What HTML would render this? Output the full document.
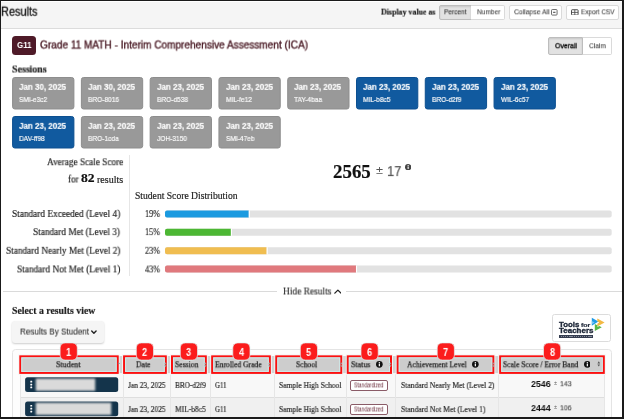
<!DOCTYPE html>
<html><head><meta charset="utf-8"><title>Results</title><style>
html,body{margin:0;padding:0;}body{width:624px;height:419px;overflow:hidden;background:#fff;position:relative;font-family:"Liberation Sans",sans-serif;}
.a{position:absolute;}.t{position:absolute;white-space:nowrap;transform-origin:0 50%;line-height:1;will-change:transform;}

.btn{position:absolute;box-sizing:border-box;background:#fff;border:1px solid #dadada;border-radius:2px;}
.btn.on{background:#e2e2e2;border-color:#bdbdbd;box-shadow:inset 0 1px 2px rgba(0,0,0,.12);}
.card{position:absolute;box-sizing:border-box;width:62.3px;height:32.5px;border-radius:2.5px;background:#999;border:1px solid #8d8d8d;}
.card.b{background:#115a9f;border-color:#0c4f90;}
.hdr{position:absolute;box-sizing:border-box;height:19.2px;top:355.3px;background:#cdcdcd;border:2px solid #fb1010;box-shadow:inset 0 0 0 1px #cdeaea, 0 0 0 1px #f3f3f3;}
.bdg{position:absolute;z-index:5;box-sizing:border-box;width:17.2px;height:17.2px;top:342.9px;border-radius:5px;background:#fb1c1c;box-shadow:0 0 0 0.7px #e0f2f2;}
.sbtn{position:absolute;box-sizing:border-box;left:25px;width:93.3px;height:14.8px;border-radius:2.5px;background:#14344b;overflow:hidden;}
.blur{position:absolute;top:0.6px;height:13.6px;background:#d9d9d9;filter:blur(0.9px);}
.std{position:absolute;box-sizing:border-box;left:350px;width:38px;height:10.8px;border:1.1px solid #8a5b67;border-radius:2px;background:#fff;}

</style></head><body><div id="pg" style="position:absolute;left:0;top:0;width:624px;height:419px;overflow:hidden;filter:blur(0.25px);">
<div class="a" style="left:0;top:1.5px;width:624px;height:26.1px;background:#f5f5f5;border-bottom:1px solid #dcdcdc;"></div>
<div class="a" style="left:2.5px;top:290.8px;width:274.5px;height:1px;background:#dadada;"></div>
<div class="a" style="left:346.2px;top:290.8px;width:276px;height:1px;background:#dadada;"></div>
<div class="a" style="left:128.5px;top:155px;width:1.6px;height:121px;background:#e6e6e6;"></div>
<div class="btn on" style="left:439px;top:5px;width:32.5px;height:14.6px;border-radius:2px 0 0 2px;"></div>
<div class="btn" style="left:471px;top:5px;width:33.6px;height:14.6px;border-radius:0 2px 2px 0;border-left:none;"></div>
<div class="btn" style="left:509.3px;top:5px;width:53.2px;height:14.6px;"></div>
<div class="btn" style="left:566.4px;top:5px;width:52.6px;height:14.6px;"></div>
<svg class="a" style="left:551.2px;top:9px;" width="6.6" height="6.6" viewBox="0 0 10 10"><rect x="0.8" y="0.8" width="8.4" height="8.4" rx="1.2" fill="none" stroke="#555" stroke-width="1.3"/><rect x="3.2" y="4.2" width="3.6" height="1.7" fill="#555"/></svg>
<svg class="a" style="left:571px;top:8.6px;" width="7.6" height="6.8" viewBox="0 0 12 10"><rect x="0.8" y="0.8" width="10.4" height="8.4" rx="1" fill="none" stroke="#444" stroke-width="1.5"/><line x1="6" y1="1" x2="6" y2="9" stroke="#444" stroke-width="1.3"/><line x1="1" y1="5" x2="11" y2="5" stroke="#444" stroke-width="1.3"/></svg>
<div class="a" style="left:12px;top:36.2px;width:23.9px;height:18.8px;border-radius:3.5px;background:#4e1a28;"></div>
<div class="btn on" style="left:548px;top:37.2px;width:35.2px;height:17.6px;border-radius:2px 0 0 2px;"></div>
<div class="btn" style="left:582.8px;top:37.2px;width:29px;height:17.6px;border-radius:0 2px 2px 0;border-left:none;"></div>
<svg class="a" style="left:405px;top:163.8px;" width="6.3" height="6.3" viewBox="0 0 10 10"><circle cx="5" cy="5" r="5" fill="#444"/><rect x="4.1" y="4.2" width="1.8" height="3.6" fill="#fff"/><circle cx="5" cy="2.7" r="1.05" fill="#fff"/></svg>
<svg class="a" style="left:333.6px;top:288.6px;" width="7.8" height="5" viewBox="0 0 12 7.5"><path d="M1.3 6.3 L6 1.6 L10.7 6.3" fill="none" stroke="#222" stroke-width="2" stroke-linecap="round" stroke-linejoin="round"/></svg>
<div class="a" style="left:11.6px;top:321.3px;width:92.8px;height:21.6px;border-radius:3px;background:#f5f5f5;box-shadow:0 1px 2px rgba(0,0,0,.2);"></div>
<svg class="a" style="left:90.8px;top:329.8px;" width="5.8" height="4.2" viewBox="0 0 12 8"><path d="M1.5 1.6 L6 6.2 L10.5 1.6" fill="none" stroke="#222" stroke-width="2.9" stroke-linecap="round" stroke-linejoin="round"/></svg>
<div class="a" style="left:552.3px;top:313.8px;width:58.7px;height:27.8px;box-sizing:border-box;border:1px solid #dcdcdc;border-radius:2.5px;background:#fff;"></div>
<div class="a" style="left:558.9px;top:335px;width:34.1px;height:2.5px;background:#353d50;"></div>
<div class="a" style="left:560.5px;top:335.9px;width:31px;height:0.8px;background:repeating-linear-gradient(90deg,#9aa0ad 0 1.1px,#353d50 1.1px 1.9px);opacity:.8"></div>
<svg class="a" style="left:590px;top:316px;" width="16" height="16" viewBox="0 0 16 16"><path d="M1.8 1.8 L8.4 5.6 L1.8 9.8 Z" fill="#1f9be6"/><path d="M1.8 5 L4.6 6.4 L1.8 8.2Z" fill="#7cc8f3"/><path d="M7.3 2.6 L14.6 6.5 L7.3 10.4 L7.3 7.7 L9.2 6.5 L7.3 5.3Z" fill="#f3b943"/><path d="M4.8 7.9 L4.8 14.9 L11.8 11.2 L9.3 9.9 L7.4 10.9 L7.4 9.3Z" fill="#57b847"/></svg>
<div class="a" style="left:11.6px;top:349.3px;width:600.6px;height:80px;box-sizing:border-box;border:1.2px solid #e4e4e4;border-radius:3.5px;background:#fdfdfd;"></div>
<div class="a" style="left:20px;top:374px;width:584px;height:22.6px;background:#f8f8f8;"></div>
<div class="a" style="left:20px;top:396.6px;width:584px;height:1px;background:#dedede;"></div>
<div class="a" style="left:20px;top:397.6px;width:584px;height:22px;background:#f0f0f0;"></div>
<div class="a" style="left:20px;top:356px;width:584px;height:18px;background:#f4f4f4;"></div>
<div class="a" style="left:20.0px;top:374px;width:1px;height:46px;background:#e6e6e6;"></div>
<div class="a" style="left:123.2px;top:374px;width:1px;height:46px;background:#e6e6e6;"></div>
<div class="a" style="left:170.2px;top:374px;width:1px;height:46px;background:#e6e6e6;"></div>
<div class="a" style="left:210.2px;top:374px;width:1px;height:46px;background:#e6e6e6;"></div>
<div class="a" style="left:274.4px;top:374px;width:1px;height:46px;background:#e6e6e6;"></div>
<div class="a" style="left:345.8px;top:374px;width:1px;height:46px;background:#e6e6e6;"></div>
<div class="a" style="left:395.4px;top:374px;width:1px;height:46px;background:#e6e6e6;"></div>
<div class="a" style="left:498.4px;top:374px;width:1px;height:46px;background:#e6e6e6;"></div>
<div class="a" style="left:603.6px;top:374px;width:1px;height:46px;background:#e6e6e6;"></div>
<div class="a" style="left:20px;top:356.2px;width:584.4px;height:16.4px;background:#d3d3d3;"></div>
<div class="std" style="top:380.0px;"></div>
<div class="std" style="top:404.1px;"></div>
<svg class="a" style="left:0;top:0;" width="624" height="419" viewBox="0 0 624 419"><defs><filter id="bl" x="-10%" y="-30%" width="120%" height="160%"><feGaussianBlur stdDeviation="0.8"/></filter></defs><rect x="12.60" y="77.50" width="61.3" height="31.5" rx="2.2" fill="#999" stroke="#8d8d8d" stroke-width="1"/><rect x="81.38" y="77.50" width="61.3" height="31.5" rx="2.2" fill="#999" stroke="#8d8d8d" stroke-width="1"/><rect x="150.16" y="77.50" width="61.3" height="31.5" rx="2.2" fill="#999" stroke="#8d8d8d" stroke-width="1"/><rect x="218.94" y="77.50" width="61.3" height="31.5" rx="2.2" fill="#999" stroke="#8d8d8d" stroke-width="1"/><rect x="287.72" y="77.50" width="61.3" height="31.5" rx="2.2" fill="#999" stroke="#8d8d8d" stroke-width="1"/><rect x="356.50" y="77.50" width="61.3" height="31.5" rx="2.2" fill="#115a9f" stroke="#0c4f90" stroke-width="1"/><rect x="425.28" y="77.50" width="61.3" height="31.5" rx="2.2" fill="#115a9f" stroke="#0c4f90" stroke-width="1"/><rect x="494.06" y="77.50" width="61.3" height="31.5" rx="2.2" fill="#115a9f" stroke="#0c4f90" stroke-width="1"/><rect x="12.60" y="116.50" width="61.3" height="31.5" rx="2.2" fill="#115a9f" stroke="#0c4f90" stroke-width="1"/><rect x="81.38" y="116.50" width="61.3" height="31.5" rx="2.2" fill="#999" stroke="#8d8d8d" stroke-width="1"/><rect x="150.16" y="116.50" width="61.3" height="31.5" rx="2.2" fill="#999" stroke="#8d8d8d" stroke-width="1"/><rect x="218.94" y="116.50" width="61.3" height="31.5" rx="2.2" fill="#999" stroke="#8d8d8d" stroke-width="1"/><rect x="165" y="210.50" width="446.7" height="7" rx="2" fill="#e2e2e2"/><path d="M167 210.50 h81.77 v7 h-81.77 a2 2 0 0 1 -2 -2 v-3 a2 2 0 0 1 2 -2z" fill="#1a9ae0"/><rect x="248.77" y="210.50" width="1.1" height="7" fill="#fff"/><rect x="165" y="228.75" width="446.7" height="7" rx="2" fill="#e2e2e2"/><path d="M167 228.75 h63.90 v7 h-63.90 a2 2 0 0 1 -2 -2 v-3 a2 2 0 0 1 2 -2z" fill="#4cb733"/><rect x="230.91" y="228.75" width="1.1" height="7" fill="#fff"/><rect x="165" y="247.20" width="446.7" height="7" rx="2" fill="#e2e2e2"/><path d="M167 247.20 h99.64 v7 h-99.64 a2 2 0 0 1 -2 -2 v-3 a2 2 0 0 1 2 -2z" fill="#f0bd50"/><rect x="266.64" y="247.20" width="1.1" height="7" fill="#fff"/><rect x="165" y="265.60" width="446.7" height="7" rx="2" fill="#e2e2e2"/><path d="M167 265.60 h188.98 v7 h-188.98 a2 2 0 0 1 -2 -2 v-3 a2 2 0 0 1 2 -2z" fill="#e0797d"/><rect x="355.98" y="265.60" width="1.1" height="7" fill="#fff"/><rect x="18.80" y="354.85" width="100.40" height="19.55" fill="none" stroke="#f4f4f4" stroke-width="1"/><rect x="20.30" y="356.35" width="97.40" height="16.55" fill="#cdcdcd" stroke="#fb1010" stroke-width="2"/><rect x="21.80" y="357.85" width="94.40" height="13.55" fill="none" stroke="#cdeaea" stroke-width="1"/><rect x="122.60" y="354.85" width="44.70" height="19.55" fill="none" stroke="#f4f4f4" stroke-width="1"/><rect x="124.10" y="356.35" width="41.70" height="16.55" fill="#cdcdcd" stroke="#fb1010" stroke-width="2"/><rect x="125.60" y="357.85" width="38.70" height="13.55" fill="none" stroke="#cdeaea" stroke-width="1"/><rect x="170.50" y="354.85" width="36.80" height="19.55" fill="none" stroke="#f4f4f4" stroke-width="1"/><rect x="172.00" y="356.35" width="33.80" height="16.55" fill="#cdcdcd" stroke="#fb1010" stroke-width="2"/><rect x="173.50" y="357.85" width="30.80" height="13.55" fill="none" stroke="#cdeaea" stroke-width="1"/><rect x="210.70" y="354.85" width="60.60" height="19.55" fill="none" stroke="#f4f4f4" stroke-width="1"/><rect x="212.20" y="356.35" width="57.60" height="16.55" fill="#cdcdcd" stroke="#fb1010" stroke-width="2"/><rect x="213.70" y="357.85" width="54.60" height="13.55" fill="none" stroke="#cdeaea" stroke-width="1"/><rect x="274.80" y="354.85" width="67.90" height="19.55" fill="none" stroke="#f4f4f4" stroke-width="1"/><rect x="276.30" y="356.35" width="64.90" height="16.55" fill="#cdcdcd" stroke="#fb1010" stroke-width="2"/><rect x="277.80" y="357.85" width="61.90" height="13.55" fill="none" stroke="#cdeaea" stroke-width="1"/><rect x="346.30" y="354.85" width="46.20" height="19.55" fill="none" stroke="#f4f4f4" stroke-width="1"/><rect x="347.80" y="356.35" width="43.20" height="16.55" fill="#cdcdcd" stroke="#fb1010" stroke-width="2"/><rect x="349.30" y="357.85" width="40.20" height="13.55" fill="none" stroke="#cdeaea" stroke-width="1"/><rect x="396.20" y="354.85" width="98.60" height="19.55" fill="none" stroke="#f4f4f4" stroke-width="1"/><rect x="397.70" y="356.35" width="95.60" height="16.55" fill="#cdcdcd" stroke="#fb1010" stroke-width="2"/><rect x="399.20" y="357.85" width="92.60" height="13.55" fill="none" stroke="#cdeaea" stroke-width="1"/><rect x="498.70" y="354.85" width="106.60" height="19.55" fill="none" stroke="#f4f4f4" stroke-width="1"/><rect x="500.20" y="356.35" width="103.60" height="16.55" fill="#cdcdcd" stroke="#fb1010" stroke-width="2"/><rect x="501.70" y="357.85" width="100.60" height="13.55" fill="none" stroke="#cdeaea" stroke-width="1"/><rect x="25.1" y="377.30" width="93.1" height="14.8" rx="2.5" fill="#14344b"/><rect x="35.8" y="378.60" width="59.4" height="12.2" fill="#dadada" filter="url(#bl)"/><rect x="25.1" y="401.40" width="93.1" height="14.8" rx="2.5" fill="#14344b"/><rect x="35.8" y="402.70" width="75.4" height="12.2" fill="#dadada" filter="url(#bl)"/><rect x="60.10" y="342.9" width="17.2" height="17.2" rx="5" fill="#fb1c1c" stroke="#e0f2f2" stroke-width="0.7"/><rect x="136.30" y="342.9" width="17.2" height="17.2" rx="5" fill="#fb1c1c" stroke="#e0f2f2" stroke-width="0.7"/><rect x="180.30" y="342.9" width="17.2" height="17.2" rx="5" fill="#fb1c1c" stroke="#e0f2f2" stroke-width="0.7"/><rect x="232.80" y="342.9" width="17.2" height="17.2" rx="5" fill="#fb1c1c" stroke="#e0f2f2" stroke-width="0.7"/><rect x="300.30" y="342.9" width="17.2" height="17.2" rx="5" fill="#fb1c1c" stroke="#e0f2f2" stroke-width="0.7"/><rect x="361.00" y="342.9" width="17.2" height="17.2" rx="5" fill="#fb1c1c" stroke="#e0f2f2" stroke-width="0.7"/><rect x="437.20" y="342.9" width="17.2" height="17.2" rx="5" fill="#fb1c1c" stroke="#e0f2f2" stroke-width="0.7"/><rect x="543.50" y="342.9" width="17.2" height="17.2" rx="5" fill="#fb1c1c" stroke="#e0f2f2" stroke-width="0.7"/><rect x="30.3" y="380.80" width="1.9" height="1.7" rx="0.3" fill="#fff"/><rect x="30.3" y="383.70" width="1.9" height="1.7" rx="0.3" fill="#fff"/><rect x="30.3" y="386.60" width="1.9" height="1.7" rx="0.3" fill="#fff"/><rect x="30.3" y="404.90" width="1.9" height="1.7" rx="0.3" fill="#fff"/><rect x="30.3" y="407.80" width="1.9" height="1.7" rx="0.3" fill="#fff"/><rect x="30.3" y="410.70" width="1.9" height="1.7" rx="0.3" fill="#fff"/></svg>
<svg class="a" style="left:376.2px;top:361.2px;" width="6.7" height="6.7" viewBox="0 0 10 10"><circle cx="5" cy="5" r="5" fill="#111"/><rect x="4.1" y="4.2" width="1.8" height="3.7" fill="#fff"/><circle cx="5" cy="2.6" r="1.1" fill="#fff"/></svg>
<svg class="a" style="left:472.0px;top:361.2px;" width="6.7" height="6.7" viewBox="0 0 10 10"><circle cx="5" cy="5" r="5" fill="#111"/><rect x="4.1" y="4.2" width="1.8" height="3.7" fill="#fff"/><circle cx="5" cy="2.6" r="1.1" fill="#fff"/></svg>
<svg class="a" style="left:583.8px;top:361.2px;" width="6.7" height="6.7" viewBox="0 0 10 10"><circle cx="5" cy="5" r="5" fill="#111"/><rect x="4.1" y="4.2" width="1.8" height="3.7" fill="#fff"/><circle cx="5" cy="2.6" r="1.1" fill="#fff"/></svg>
<svg class="a" style="left:164.2px;top:361.6px;" width="2.8" height="5.4" viewBox="0 0 6 12"><path d="M3 0.5 L5.8 5 L0.2 5Z M3 11.5 L5.8 7 L0.2 7Z" fill="#9c9c9c"/></svg>
<svg class="a" style="left:204.3px;top:361.6px;" width="2.8" height="5.4" viewBox="0 0 6 12"><path d="M3 0.5 L5.8 5 L0.2 5Z M3 11.5 L5.8 7 L0.2 7Z" fill="#9c9c9c"/></svg>
<svg class="a" style="left:267.6px;top:361.6px;" width="2.8" height="5.4" viewBox="0 0 6 12"><path d="M3 0.5 L5.8 5 L0.2 5Z M3 11.5 L5.8 7 L0.2 7Z" fill="#9c9c9c"/></svg>
<svg class="a" style="left:339.6px;top:361.6px;" width="2.8" height="5.4" viewBox="0 0 6 12"><path d="M3 0.5 L5.8 5 L0.2 5Z M3 11.5 L5.8 7 L0.2 7Z" fill="#9c9c9c"/></svg>
<svg class="a" style="left:389.3px;top:361.6px;" width="2.8" height="5.4" viewBox="0 0 6 12"><path d="M3 0.5 L5.8 5 L0.2 5Z M3 11.5 L5.8 7 L0.2 7Z" fill="#9c9c9c"/></svg>
<svg class="a" style="left:491.6px;top:361.6px;" width="2.8" height="5.4" viewBox="0 0 6 12"><path d="M3 0.5 L5.8 5 L0.2 5Z M3 11.5 L5.8 7 L0.2 7Z" fill="#9c9c9c"/></svg>
<svg class="a" style="left:116.6px;top:361.8px;" width="3.6" height="2.6" viewBox="0 0 6 5"><path d="M3 0.3 L5.9 4.8 L0.1 4.8Z" fill="#8a8a8a"/></svg>
<svg class="a" style="left:596.6px;top:361.3px;" width="3.6" height="5.8" viewBox="0 0 6 12"><path d="M3 0.5 L5.8 5 L0.2 5Z M3 11.5 L5.8 7 L0.2 7Z" fill="#555"/></svg>
<span class="t" id="t0" style="left:0.60px;top:5px;font-size:12.40px;font-family:'Liberation Sans', sans-serif;font-weight:normal;color:#111;transform:translateY(0.70px) scaleX(0.8856);-webkit-text-stroke:0.3px #111;">Results</span>
<span class="t" id="t1" style="left:380.50px;top:7px;font-size:8.60px;font-family:'Liberation Serif', serif;font-weight:bold;color:#222;transform:translateY(0.60px) scaleX(0.9203);-webkit-text-stroke:0.18px #222;">Display value as</span>
<span class="t" id="t2" style="left:444.00px;top:8px;font-size:7.40px;font-family:'Liberation Sans', sans-serif;font-weight:normal;color:#111;transform:translateY(0.30px) scaleX(0.8829);">Percent</span>
<span class="t" id="t3" style="left:476.50px;top:8px;font-size:7.40px;font-family:'Liberation Sans', sans-serif;font-weight:normal;color:#484848;transform:translateY(0.30px) scaleX(0.8936);-webkit-text-stroke:0.12px #484848;">Number</span>
<span class="t" id="t4" style="left:514.00px;top:8px;font-size:7.40px;font-family:'Liberation Sans', sans-serif;font-weight:normal;color:#484848;transform:translateY(0.30px) scaleX(0.9191);-webkit-text-stroke:0.12px #484848;">Collapse All</span>
<span class="t" id="t5" style="left:580.50px;top:8px;font-size:7.40px;font-family:'Liberation Sans', sans-serif;font-weight:normal;color:#484848;transform:translateY(0.30px) scaleX(0.8673);-webkit-text-stroke:0.12px #484848;">Export CSV</span>
<span class="t" id="t6" style="left:16.70px;top:40px;font-size:8.90px;font-family:'Liberation Sans', sans-serif;font-weight:bold;color:#fff;transform:translateY(0.95px) scaleX(0.8959);">G11</span>
<span class="t" id="t7" style="left:40.30px;top:40px;font-size:10.20px;font-family:'Liberation Sans', sans-serif;font-weight:normal;color:#45141f;transform:translateY(0.50px) scaleX(0.9876);-webkit-text-stroke:0.32px #45141f;">Grade 11 MATH - Interim Comprehensive Assessment (ICA)</span>
<span class="t" id="t8" style="left:554.50px;top:42px;font-size:7.90px;font-family:'Liberation Sans', sans-serif;font-weight:normal;color:#000;transform:translateY(0.25px) scaleX(0.8800);-webkit-text-stroke:0.3px #000;">Overall</span>
<span class="t" id="t9" style="left:588.80px;top:42px;font-size:7.90px;font-family:'Liberation Sans', sans-serif;font-weight:normal;color:#484848;transform:translateY(0.25px) scaleX(0.8428);-webkit-text-stroke:0.12px #484848;">Claim</span>
<span class="t" id="t10" style="left:11.70px;top:64px;font-size:10.20px;font-family:'Liberation Serif', serif;font-weight:bold;color:#1c1c1c;transform:translateY(0.50px) scaleX(0.9700);-webkit-text-stroke:0.18px #1c1c1c;">Sessions</span>
<span class="t" id="t11" style="left:19.20px;top:82px;font-size:8.90px;font-family:'Liberation Sans', sans-serif;font-weight:bold;color:#fff;transform:translateY(0.85px) scaleX(0.9004);-webkit-text-stroke:0.15px #fff;">Jan 30, 2025</span>
<span class="t" id="t12" style="left:19.20px;top:96px;font-size:7.40px;font-family:'Liberation Sans', sans-serif;font-weight:normal;color:#fafafa;transform:translateY(0.00px) scaleX(0.8900);-webkit-text-stroke:0.2px #fafafa;">SMI-e3c2</span>
<span class="t" id="t13" style="left:87.98px;top:82px;font-size:8.90px;font-family:'Liberation Sans', sans-serif;font-weight:bold;color:#fff;transform:translateY(0.85px) scaleX(0.9004);-webkit-text-stroke:0.15px #fff;">Jan 30, 2025</span>
<span class="t" id="t14" style="left:87.98px;top:96px;font-size:7.40px;font-family:'Liberation Sans', sans-serif;font-weight:normal;color:#fafafa;transform:translateY(0.00px) scaleX(0.8900);-webkit-text-stroke:0.2px #fafafa;">BRO-8016</span>
<span class="t" id="t15" style="left:156.76px;top:82px;font-size:8.90px;font-family:'Liberation Sans', sans-serif;font-weight:bold;color:#fff;transform:translateY(0.85px) scaleX(0.9004);-webkit-text-stroke:0.15px #fff;">Jan 23, 2025</span>
<span class="t" id="t16" style="left:156.76px;top:96px;font-size:7.40px;font-family:'Liberation Sans', sans-serif;font-weight:normal;color:#fafafa;transform:translateY(0.00px) scaleX(0.8900);-webkit-text-stroke:0.2px #fafafa;">BRO-d538</span>
<span class="t" id="t17" style="left:225.54px;top:82px;font-size:8.90px;font-family:'Liberation Sans', sans-serif;font-weight:bold;color:#fff;transform:translateY(0.85px) scaleX(0.9004);-webkit-text-stroke:0.15px #fff;">Jan 23, 2025</span>
<span class="t" id="t18" style="left:225.54px;top:96px;font-size:7.40px;font-family:'Liberation Sans', sans-serif;font-weight:normal;color:#fafafa;transform:translateY(0.00px) scaleX(0.8900);-webkit-text-stroke:0.2px #fafafa;">MIL-fe12</span>
<span class="t" id="t19" style="left:294.32px;top:82px;font-size:8.90px;font-family:'Liberation Sans', sans-serif;font-weight:bold;color:#fff;transform:translateY(0.85px) scaleX(0.9004);-webkit-text-stroke:0.15px #fff;">Jan 23, 2025</span>
<span class="t" id="t20" style="left:294.32px;top:96px;font-size:7.40px;font-family:'Liberation Sans', sans-serif;font-weight:normal;color:#fafafa;transform:translateY(0.00px) scaleX(0.8900);-webkit-text-stroke:0.2px #fafafa;">TAY-4baa</span>
<span class="t" id="t21" style="left:363.10px;top:82px;font-size:8.90px;font-family:'Liberation Sans', sans-serif;font-weight:bold;color:#fff;transform:translateY(0.85px) scaleX(0.9004);-webkit-text-stroke:0.15px #fff;">Jan 23, 2025</span>
<span class="t" id="t22" style="left:363.10px;top:96px;font-size:7.40px;font-family:'Liberation Sans', sans-serif;font-weight:normal;color:#fafafa;transform:translateY(0.00px) scaleX(0.8900);-webkit-text-stroke:0.2px #fafafa;">MIL-b8c5</span>
<span class="t" id="t23" style="left:431.88px;top:82px;font-size:8.90px;font-family:'Liberation Sans', sans-serif;font-weight:bold;color:#fff;transform:translateY(0.85px) scaleX(0.9004);-webkit-text-stroke:0.15px #fff;">Jan 23, 2025</span>
<span class="t" id="t24" style="left:431.88px;top:96px;font-size:7.40px;font-family:'Liberation Sans', sans-serif;font-weight:normal;color:#fafafa;transform:translateY(0.00px) scaleX(0.8900);-webkit-text-stroke:0.2px #fafafa;">BRO-d2f9</span>
<span class="t" id="t25" style="left:500.66px;top:82px;font-size:8.90px;font-family:'Liberation Sans', sans-serif;font-weight:bold;color:#fff;transform:translateY(0.85px) scaleX(0.9004);-webkit-text-stroke:0.15px #fff;">Jan 23, 2025</span>
<span class="t" id="t26" style="left:500.66px;top:96px;font-size:7.40px;font-family:'Liberation Sans', sans-serif;font-weight:normal;color:#fafafa;transform:translateY(0.00px) scaleX(0.8900);-webkit-text-stroke:0.2px #fafafa;">WIL-6c57</span>
<span class="t" id="t27" style="left:19.20px;top:121px;font-size:8.90px;font-family:'Liberation Sans', sans-serif;font-weight:bold;color:#fff;transform:translateY(0.85px) scaleX(0.9004);-webkit-text-stroke:0.15px #fff;">Jan 23, 2025</span>
<span class="t" id="t28" style="left:19.20px;top:135px;font-size:7.40px;font-family:'Liberation Sans', sans-serif;font-weight:normal;color:#fafafa;transform:translateY(0.00px) scaleX(0.8900);-webkit-text-stroke:0.2px #fafafa;">DAV-ff98</span>
<span class="t" id="t29" style="left:87.98px;top:121px;font-size:8.90px;font-family:'Liberation Sans', sans-serif;font-weight:bold;color:#fff;transform:translateY(0.85px) scaleX(0.9004);-webkit-text-stroke:0.15px #fff;">Jan 23, 2025</span>
<span class="t" id="t30" style="left:87.98px;top:135px;font-size:7.40px;font-family:'Liberation Sans', sans-serif;font-weight:normal;color:#fafafa;transform:translateY(0.00px) scaleX(0.8900);-webkit-text-stroke:0.2px #fafafa;">BRO-1cda</span>
<span class="t" id="t31" style="left:156.76px;top:121px;font-size:8.90px;font-family:'Liberation Sans', sans-serif;font-weight:bold;color:#fff;transform:translateY(0.85px) scaleX(0.9004);-webkit-text-stroke:0.15px #fff;">Jan 23, 2025</span>
<span class="t" id="t32" style="left:156.76px;top:135px;font-size:7.40px;font-family:'Liberation Sans', sans-serif;font-weight:normal;color:#fafafa;transform:translateY(0.00px) scaleX(0.8900);-webkit-text-stroke:0.2px #fafafa;">JOH-3150</span>
<span class="t" id="t33" style="left:225.54px;top:121px;font-size:8.90px;font-family:'Liberation Sans', sans-serif;font-weight:bold;color:#fff;transform:translateY(0.85px) scaleX(0.9004);-webkit-text-stroke:0.15px #fff;">Jan 23, 2025</span>
<span class="t" id="t34" style="left:225.54px;top:135px;font-size:7.40px;font-family:'Liberation Sans', sans-serif;font-weight:normal;color:#fafafa;transform:translateY(0.00px) scaleX(0.8900);-webkit-text-stroke:0.2px #fafafa;">SMI-47eb</span>
<span class="t" id="t35" style="left:46.75px;top:157px;font-size:9.60px;font-family:'Liberation Serif', serif;font-weight:normal;color:#222;transform:translateY(0.20px) scaleX(0.9627);-webkit-text-stroke:0.18px #222;">Average Scale Score</span>
<span class="t" id="t36" style="left:68.00px;top:174px;font-size:9.60px;font-family:'Liberation Serif', serif;font-weight:normal;color:#222;transform:translateY(0.50px) scaleX(0.9385);-webkit-text-stroke:0.18px #222;">for</span>
<span class="t" id="t37" style="left:81.10px;top:172px;font-size:12.50px;font-family:'Liberation Serif', serif;font-weight:bold;color:#111;transform:translateY(0.45px) scaleX(1.0880);-webkit-text-stroke:0.18px #111;">82</span>
<span class="t" id="t38" style="left:96.80px;top:174px;font-size:9.60px;font-family:'Liberation Serif', serif;font-weight:normal;color:#222;transform:translateY(0.50px) scaleX(1.0454);-webkit-text-stroke:0.18px #222;">results</span>
<span class="t" id="t39" style="left:333.00px;top:163px;font-size:18.20px;font-family:'Liberation Serif', serif;font-weight:bold;color:#111;transform:translateY(0.10px) scaleX(1.0392);-webkit-text-stroke:0.18px #111;">2565</span>
<span class="t" id="t40" style="left:375.80px;top:165px;font-size:11.20px;font-family:'Liberation Sans', sans-serif;font-weight:normal;color:#555;transform:translateY(0.30px) scaleX(1.1399);">±</span>
<span class="t" id="t41" style="left:387.30px;top:165px;font-size:13.80px;font-family:'Liberation Sans', sans-serif;font-weight:normal;color:#505050;transform:translateY(0.10px) scaleX(0.9375);-webkit-text-stroke:0.15px #505050;">17</span>
<span class="t" id="t42" style="left:134.50px;top:190px;font-size:9.60px;font-family:'Liberation Serif', serif;font-weight:normal;color:#222;transform:translateY(0.70px) scaleX(1.0017);-webkit-text-stroke:0.18px #222;">Student Score Distribution</span>
<span class="t" id="t43" style="left:11.75px;top:209px;font-size:9.60px;font-family:'Liberation Serif', serif;font-weight:normal;color:#222;transform:translateY(0.00px) scaleX(0.9699);-webkit-text-stroke:0.18px #222;">Standard Exceeded (Level 4)</span>
<span class="t" id="t44" style="left:145.00px;top:209px;font-size:9.60px;font-family:'Liberation Serif', serif;font-weight:normal;color:#222;transform:translateY(0.00px) scaleX(0.8526);-webkit-text-stroke:0.18px #222;">19%</span>
<span class="t" id="t45" style="left:33.00px;top:227px;font-size:9.60px;font-family:'Liberation Serif', serif;font-weight:normal;color:#222;transform:translateY(0.10px) scaleX(0.9690);-webkit-text-stroke:0.18px #222;">Standard Met (Level 3)</span>
<span class="t" id="t46" style="left:145.00px;top:227px;font-size:9.60px;font-family:'Liberation Serif', serif;font-weight:normal;color:#222;transform:translateY(0.10px) scaleX(0.8526);-webkit-text-stroke:0.18px #222;">15%</span>
<span class="t" id="t47" style="left:5.50px;top:245px;font-size:9.60px;font-family:'Liberation Serif', serif;font-weight:normal;color:#222;transform:translateY(0.80px) scaleX(0.9680);-webkit-text-stroke:0.18px #222;">Standard Nearly Met (Level 2)</span>
<span class="t" id="t48" style="left:145.00px;top:245px;font-size:9.60px;font-family:'Liberation Serif', serif;font-weight:normal;color:#222;transform:translateY(0.80px) scaleX(0.8526);-webkit-text-stroke:0.18px #222;">23%</span>
<span class="t" id="t49" style="left:16.50px;top:264px;font-size:9.60px;font-family:'Liberation Serif', serif;font-weight:normal;color:#222;transform:translateY(0.40px) scaleX(0.9711);-webkit-text-stroke:0.18px #222;">Standard Not Met (Level 1)</span>
<span class="t" id="t50" style="left:145.00px;top:264px;font-size:9.60px;font-family:'Liberation Serif', serif;font-weight:normal;color:#222;transform:translateY(0.40px) scaleX(0.8526);-webkit-text-stroke:0.18px #222;">43%</span>
<span class="t" id="t51" style="left:282.80px;top:286px;font-size:9.60px;font-family:'Liberation Serif', serif;font-weight:normal;color:#333;transform:translateY(0.50px) scaleX(0.9815);-webkit-text-stroke:0.18px #333;">Hide Results</span>
<span class="t" id="t52" style="left:11.75px;top:305px;font-size:9.80px;font-family:'Liberation Serif', serif;font-weight:bold;color:#1c1c1c;transform:translateY(0.90px) scaleX(0.9987);-webkit-text-stroke:0.18px #1c1c1c;">Select a results view</span>
<span class="t" id="t53" style="left:19.50px;top:327px;font-size:9.30px;font-family:'Liberation Sans', sans-serif;font-weight:normal;color:#383838;transform:translateY(0.55px) scaleX(0.8726);-webkit-text-stroke:0.15px #383838;">Results By Student</span>
<span class="t" id="t54" style="left:558.70px;top:320px;font-size:7.30px;font-family:'Liberation Sans', sans-serif;font-weight:bold;color:#1d2738;transform:translateY(0.75px) scaleX(1.0728);-webkit-text-stroke:0.35px #1d2738;">Tools</span>
<span class="t" id="t55" style="left:580.60px;top:321px;font-size:6.20px;font-family:'Liberation Sans', sans-serif;font-weight:bold;color:#1d2738;transform:translateY(0.80px) scaleX(1.1273);-webkit-text-stroke:0.2px #1d2738;">for</span>
<span class="t" id="t56" style="left:558.70px;top:326px;font-size:7.30px;font-family:'Liberation Sans', sans-serif;font-weight:bold;color:#1d2738;transform:translateY(0.95px) scaleX(1.0947);-webkit-text-stroke:0.35px #1d2738;">Teachers</span>
<span class="t" id="t57" style="left:55.80px;top:360px;font-size:8.70px;font-family:'Liberation Serif', serif;font-weight:normal;color:#222;transform:translateY(0.25px) scaleX(0.9229);-webkit-text-stroke:0.25px #222;">Student</span>
<span class="t" id="t58" style="left:135.70px;top:360px;font-size:8.70px;font-family:'Liberation Serif', serif;font-weight:normal;color:#222;transform:translateY(0.25px) scaleX(0.8838);-webkit-text-stroke:0.25px #222;">Date</span>
<span class="t" id="t59" style="left:174.70px;top:360px;font-size:8.70px;font-family:'Liberation Serif', serif;font-weight:normal;color:#222;transform:translateY(0.25px) scaleX(0.8847);-webkit-text-stroke:0.25px #222;">Session</span>
<span class="t" id="t60" style="left:215.30px;top:360px;font-size:8.70px;font-family:'Liberation Serif', serif;font-weight:normal;color:#222;transform:translateY(0.25px) scaleX(0.8760);-webkit-text-stroke:0.25px #222;">Enrolled Grade</span>
<span class="t" id="t61" style="left:295.80px;top:360px;font-size:8.70px;font-family:'Liberation Serif', serif;font-weight:normal;color:#222;transform:translateY(0.25px) scaleX(0.8782);-webkit-text-stroke:0.25px #222;">School</span>
<span class="t" id="t62" style="left:350.80px;top:360px;font-size:8.70px;font-family:'Liberation Serif', serif;font-weight:normal;color:#222;transform:translateY(0.25px) scaleX(0.9176);-webkit-text-stroke:0.25px #222;">Status</span>
<span class="t" id="t63" style="left:406.80px;top:360px;font-size:8.70px;font-family:'Liberation Serif', serif;font-weight:normal;color:#222;transform:translateY(0.25px) scaleX(0.8745);-webkit-text-stroke:0.25px #222;">Achievement Level</span>
<span class="t" id="t64" style="left:502.75px;top:360px;font-size:8.70px;font-family:'Liberation Serif', serif;font-weight:normal;color:#222;transform:translateY(0.25px) scaleX(0.8712);-webkit-text-stroke:0.25px #222;">Scale Score / Error Band</span>
<span class="t" id="t65" style="left:65.80px;top:347px;font-size:10.20px;font-family:'Liberation Sans', sans-serif;font-weight:bold;color:#fff;transform:translateY(0.90px) scaleX(0.8900);z-index:6;">1</span>
<span class="t" id="t66" style="left:142.40px;top:347px;font-size:10.20px;font-family:'Liberation Sans', sans-serif;font-weight:bold;color:#fff;transform:translateY(0.90px) scaleX(0.8900);z-index:6;">2</span>
<span class="t" id="t67" style="left:186.40px;top:347px;font-size:10.20px;font-family:'Liberation Sans', sans-serif;font-weight:bold;color:#fff;transform:translateY(0.90px) scaleX(0.8900);z-index:6;">3</span>
<span class="t" id="t68" style="left:238.90px;top:347px;font-size:10.20px;font-family:'Liberation Sans', sans-serif;font-weight:bold;color:#fff;transform:translateY(0.90px) scaleX(0.8900);z-index:6;">4</span>
<span class="t" id="t69" style="left:306.40px;top:347px;font-size:10.20px;font-family:'Liberation Sans', sans-serif;font-weight:bold;color:#fff;transform:translateY(0.90px) scaleX(0.8900);z-index:6;">5</span>
<span class="t" id="t70" style="left:367.10px;top:347px;font-size:10.20px;font-family:'Liberation Sans', sans-serif;font-weight:bold;color:#fff;transform:translateY(0.90px) scaleX(0.8900);z-index:6;">6</span>
<span class="t" id="t71" style="left:443.30px;top:347px;font-size:10.20px;font-family:'Liberation Sans', sans-serif;font-weight:bold;color:#fff;transform:translateY(0.90px) scaleX(0.8900);z-index:6;">7</span>
<span class="t" id="t72" style="left:549.60px;top:347px;font-size:10.20px;font-family:'Liberation Sans', sans-serif;font-weight:bold;color:#fff;transform:translateY(0.90px) scaleX(0.8900);z-index:6;">8</span>
<span class="t" id="t73" style="left:127.75px;top:381px;font-size:8.30px;font-family:'Liberation Serif', serif;font-weight:normal;color:#2b2b2b;transform:translateY(0.95px) scaleX(0.8889);-webkit-text-stroke:0.2px #2b2b2b;">Jan 23, 2025</span>
<span class="t" id="t74" style="left:174.75px;top:381px;font-size:8.30px;font-family:'Liberation Serif', serif;font-weight:normal;color:#2b2b2b;transform:translateY(0.95px) scaleX(0.8778);-webkit-text-stroke:0.2px #2b2b2b;">BRO-d2f9</span>
<span class="t" id="t75" style="left:215.25px;top:381px;font-size:8.30px;font-family:'Liberation Serif', serif;font-weight:normal;color:#2b2b2b;transform:translateY(0.95px) scaleX(0.8223);-webkit-text-stroke:0.2px #2b2b2b;">G11</span>
<span class="t" id="t76" style="left:278.75px;top:381px;font-size:8.30px;font-family:'Liberation Serif', serif;font-weight:normal;color:#2b2b2b;transform:translateY(0.95px) scaleX(0.9099);-webkit-text-stroke:0.2px #2b2b2b;">Sample High School</span>
<span class="t" id="t77" style="left:354.30px;top:382px;font-size:6.40px;font-family:'Liberation Sans', sans-serif;font-weight:normal;color:#6b2c3b;transform:translateY(0.40px) scaleX(0.7804);">Standardized</span>
<span class="t" id="t78" style="left:400.50px;top:381px;font-size:8.30px;font-family:'Liberation Serif', serif;font-weight:normal;color:#2b2b2b;transform:translateY(0.95px) scaleX(0.9130);-webkit-text-stroke:0.2px #2b2b2b;">Standard Nearly Met (Level 2)</span>
<span class="t" id="t79" style="left:530.60px;top:378px;font-size:9.90px;font-family:'Liberation Sans', sans-serif;font-weight:bold;color:#111;transform:translateY(0.95px) scaleX(0.8922);">2546</span>
<span class="t" id="t80" style="left:554.20px;top:381px;font-size:5.60px;font-family:'Liberation Sans', sans-serif;font-weight:normal;color:#666;transform:translateY(0.20px) scaleX(1.0071);">±</span>
<span class="t" id="t81" style="left:559.70px;top:380px;font-size:7.60px;font-family:'Liberation Sans', sans-serif;font-weight:normal;color:#484848;transform:translateY(0.20px) scaleX(0.9075);-webkit-text-stroke:0.15px #484848;">143</span>
<span class="t" id="t82" style="left:127.75px;top:406px;font-size:8.30px;font-family:'Liberation Serif', serif;font-weight:normal;color:#2b2b2b;transform:translateY(0.05px) scaleX(0.8889);-webkit-text-stroke:0.2px #2b2b2b;">Jan 23, 2025</span>
<span class="t" id="t83" style="left:174.75px;top:406px;font-size:8.30px;font-family:'Liberation Serif', serif;font-weight:normal;color:#2b2b2b;transform:translateY(0.05px) scaleX(0.9015);-webkit-text-stroke:0.2px #2b2b2b;">MIL-b8c5</span>
<span class="t" id="t84" style="left:215.25px;top:406px;font-size:8.30px;font-family:'Liberation Serif', serif;font-weight:normal;color:#2b2b2b;transform:translateY(0.05px) scaleX(0.8223);-webkit-text-stroke:0.2px #2b2b2b;">G11</span>
<span class="t" id="t85" style="left:278.75px;top:406px;font-size:8.30px;font-family:'Liberation Serif', serif;font-weight:normal;color:#2b2b2b;transform:translateY(0.05px) scaleX(0.9099);-webkit-text-stroke:0.2px #2b2b2b;">Sample High School</span>
<span class="t" id="t86" style="left:354.30px;top:406px;font-size:6.40px;font-family:'Liberation Sans', sans-serif;font-weight:normal;color:#6b2c3b;transform:translateY(0.50px) scaleX(0.7804);">Standardized</span>
<span class="t" id="t87" style="left:400.50px;top:406px;font-size:8.30px;font-family:'Liberation Serif', serif;font-weight:normal;color:#2b2b2b;transform:translateY(0.05px) scaleX(0.9157);-webkit-text-stroke:0.2px #2b2b2b;">Standard Not Met (Level 1)</span>
<span class="t" id="t88" style="left:530.60px;top:403px;font-size:9.90px;font-family:'Liberation Sans', sans-serif;font-weight:bold;color:#111;transform:translateY(0.05px) scaleX(0.8922);">2444</span>
<span class="t" id="t89" style="left:554.20px;top:405px;font-size:5.60px;font-family:'Liberation Sans', sans-serif;font-weight:normal;color:#666;transform:translateY(0.30px) scaleX(1.0071);">±</span>
<span class="t" id="t90" style="left:559.70px;top:404px;font-size:7.60px;font-family:'Liberation Sans', sans-serif;font-weight:normal;color:#484848;transform:translateY(0.30px) scaleX(0.9075);-webkit-text-stroke:0.15px #484848;">106</span>
</div>
<div class="a" style="z-index:9;left:0;top:0;width:624px;height:1.1px;background:#1a1a1a;"></div>
<div class="a" style="left:0;top:0;width:1.3px;height:419px;background:#1a1a1a;"></div>
<div class="a" style="left:622px;top:0;width:2px;height:419px;background:#1a1a1a;"></div>
<div class="a" style="left:0;top:417.4px;width:624px;height:1.6px;background:#1a1a1a;"></div>
</body></html>
